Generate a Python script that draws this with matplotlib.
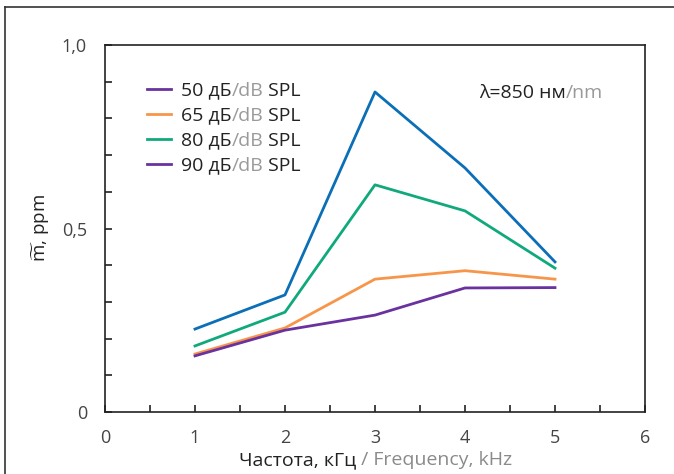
import numpy as np
import matplotlib
matplotlib.use('Agg')
import matplotlib.pyplot as plt
from matplotlib.lines import Line2D
from matplotlib.ticker import MultipleLocator

plt.rcParams['font.family'] = ['Open Sans', 'DejaVu Sans']
plt.rcParams['mathtext.fontset'] = 'custom'
plt.rcParams['mathtext.rm'] = 'Open Sans'

# данные
freq = [1, 2, 3, 4, 5]
spl_50 = [0.153, 0.223, 0.264, 0.338, 0.339]
spl_65 = [0.158, 0.229, 0.362, 0.385, 0.362]
spl_80 = [0.180, 0.272, 0.619, 0.548, 0.392]
spl_90 = [0.226, 0.319, 0.872, 0.665, 0.409]

legend_db = ['50 дБ', '65 дБ', '80 дБ', '90 дБ']
legend_colors = ['#6a329f', '#f7964a', '#10a97c', '#6a329f']

xticks = [0, 1, 2, 3, 4, 5, 6]
yticks = [0, 0.5, 1.0]
ytick_labels = ['0', '0,5', '1,0']

c_purple = '#6a329f'
c_orange = '#f7964a'
c_green = '#10a97c'
c_blue = '#0b6fb8'

fs = 14

fig = plt.figure(figsize=(6.74, 4.74), dpi=100)
ax = fig.add_axes([105/674, 62/474, 540/674, 367/474])

lw = 2.0
ax.plot(freq, spl_90, color=c_blue, lw=lw)
ax.plot(freq, spl_80, color=c_green, lw=lw)
ax.plot(freq, spl_65, color=c_orange, lw=lw)
ax.plot(freq, spl_50, color=c_purple, lw=lw)

ax.set_xlim(0, 6)
ax.set_ylim(0, 1.0)
ax.set_xticks(xticks)
ax.set_yticks(yticks)
ax.set_yticklabels(ytick_labels)
ax.xaxis.set_minor_locator(MultipleLocator(0.5))
ax.yaxis.set_minor_locator(MultipleLocator(0.1))
for s in ax.spines.values():
    s.set_linewidth(1.2)
    s.set_color('#222222')
ax.tick_params(which='both', direction='in', length=5, width=1.2, color='#222222')
ax.tick_params(axis='x', which='both', pad=12, labelsize=13, labelcolor='#444444')
ax.tick_params(axis='y', which='both', pad=13, labelsize=13, labelcolor='#444444')

ax.set_ylabel(r'$\widetilde{\mathrm{m}}$, ppm', fontsize=13.5, color='#222222', labelpad=7)

# легенда
handles = [Line2D([], [], color=c, lw=lw) for c in legend_colors]
leg = ax.legend(handles, legend_db, loc='upper left', bbox_to_anchor=(0.078, 0.9),
                frameon=False, fontsize=fs, handlelength=1.25, handletextpad=0.5,
                labelspacing=0.36, borderpad=0, borderaxespad=0)
for t in leg.get_texts():
    t.set_color('#222222')
fig.canvas.draw()
for t in leg.get_texts():
    a = ax.annotate('/dB', xy=(1, 0), xycoords=t, va='bottom', ha='left',
                    fontsize=fs, color='#9a9a9a')
    ax.annotate(' SPL', xy=(1, 0), xycoords=a, va='bottom', ha='left',
                fontsize=fs, color='#222222')

# длина волны
t1 = ax.text(0.693, 0.868, 'λ=850 нм', transform=ax.transAxes, fontsize=fs,
             color='#222222', ha='left', va='center')
ax.annotate('/nm', xy=(1, 0), xycoords=t1, va='bottom', ha='left',
            fontsize=fs, color='#9a9a9a')

# подпись оси X
t2 = fig.text(239/674, 14/474, 'Частота, кГц', fontsize=fs, color='#222222',
              ha='left', va='center')
fig.canvas.draw()
ax.annotate(' / Frequency, kHz', xy=(1, 0), xycoords=t2, va='bottom', ha='left',
            fontsize=fs, color='#8a8a8a', annotation_clip=False)

# рамка
fig.add_artist(Line2D([5/674, 5/674], [0, 1 - 7/474], color='#333333', lw=1.2))
fig.add_artist(Line2D([5/674, 1], [1 - 7/474, 1 - 7/474], color='#333333', lw=1.2))

fig.savefig('out.png', dpi=100)
